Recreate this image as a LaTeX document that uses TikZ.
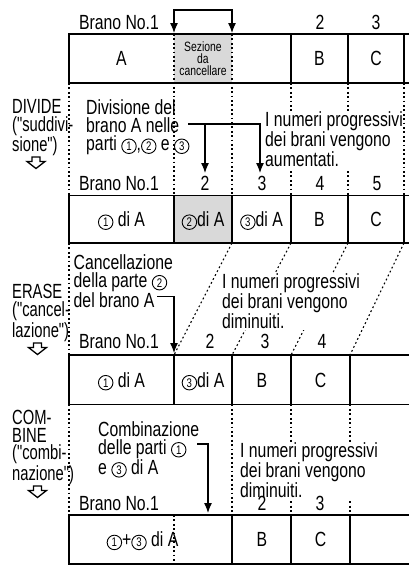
\documentclass[tikz,border=0pt]{standalone}
\usepackage{fontspec}
\setmainfont{Liberation Sans}[FakeStretch=0.77]
\newfontfamily\narrowfont{Liberation Sans}[FakeStretch=0.72]
\usetikzlibrary{arrows.meta}
\definecolor{secgray}{RGB}{217,217,217}
\newcommand\cn[1]{\tikz[baseline=(cnn.base)]\node[draw,circle,line width=0.9pt,inner sep=0pt,minimum size=14.5pt,font=\fontsize{12.5}{12.5}\selectfont](cnn){#1};}
\newcommand\hollowarrow[1]{\draw[hollow] ([xshift=-4pt]#1) -- ++(8,0) -- ++(0,4.5) -- ++(5,0) -- ++(-9,7) -- ++(-9,-7) -- ++(5,0) -- cycle;}
\begin{document}
\begin{tikzpicture}[x=1pt,y=-1pt,
  bar/.style={line width=1.8pt},
  dot/.style={line width=1.1pt,dash pattern=on 1.8pt off 2.6pt},
  conn/.style={line width=1.2pt},
  tip/.style={-{Latex[length=10pt,width=8pt]}},
  hollow/.style={line width=1.3pt,line join=miter},
  lbl/.style={inner sep=0pt,anchor=base,font=\fontsize{20.5}{18}\selectfont},
  txt/.style={inner sep=0pt,anchor=north west,align=left,font=\fontsize{20.5}{18}\selectfont},
  side/.style={inner sep=0pt,anchor=north west,align=left,font={\narrowfont\fontsize{20.5}{18}\selectfont}},
  wtxt/.style={txt,fill=white,inner xsep=1.5pt,inner ysep=1pt}]
\clip (0,0) rectangle (409,566);
\fill[white] (0,0) rectangle (409,566);
% gray sections
\fill[secgray] (174,34) rectangle (232,83);
\fill[secgray] (174,195.5) rectangle (232,243);
% dotted guide lines
\draw[dot] (69,83) -- (69,195.5);
\draw[dot] (174,34) -- (174,195.5);
\draw[dot] (232,34) -- (232,195.5);
\draw[dot] (291,83) -- (291,195.5);
\draw[dot] (348,83) -- (348,195.5);
\draw[dot] (69,243) -- (69,355);
\draw[dot] (232,243) -- (174,355);
\draw[dot] (291,243) -- (232,355);
\draw[dot] (348,243) -- (291,355);
\draw[dot] (404,243) -- (350,355);
\draw[dot] (69,404.5) -- (69,515);
\draw[dot] (232,404.5) -- (232,515);
\draw[dot] (291,404.5) -- (291,515);
\draw[dot] (350,404.5) -- (350,515);
\draw[dot] (174,515) -- (174,564);
% white-backed texts
\node[wtxt] (numdiv) at (263.5,110.45) {I numeri progressivi\\dei brani vengono\\aumentati.};
\node[wtxt] (numera) at (220.5,272.45) {I numeri progressivi\\dei brani vengono\\diminuiti.};
\node[wtxt,font=\fontsize{20.5}{17.5}\selectfont] (numcom) at (238.5,441.45) {I numeri progressivi\\dei brani vengono\\diminuiti.};
\draw[dot] (404,83) -- (404,195.5);
% bars
\draw[bar] (415,34) -- (69,34) -- (69,83) -- (415,83);
\draw[bar] (291,34) -- (291,83) (348,34) -- (348,83) (404,34) -- (404,83);
\draw[bar] (415,195.5) -- (69,195.5) -- (69,243) -- (415,243);
\draw[bar] (174,195.5) -- (174,243) (232,195.5) -- (232,243) (291,195.5) -- (291,243) (348,195.5) -- (348,243) (404,195.5) -- (404,243);
\draw[bar] (415,355) -- (69,355) -- (69,404.5) -- (415,404.5);
\draw[bar] (174,355) -- (174,404.5) (232,355) -- (232,404.5) (291,355) -- (291,404.5) (350,355) -- (350,404.5);
\draw[bar] (415,515) -- (69,515) -- (69,564) -- (415,564);
\draw[bar] (232,515) -- (232,564) (291,515) -- (291,564) (350,515) -- (350,564);
% row 1
\node[lbl] (r1a) at (119,29.25) {Brano No.1};
\node[lbl] (r1b) at (320,29.25) {2};
\node[lbl] (r1c) at (376,29.25) {3};
\node[lbl] (b1a) at (121.5,65.75) {A};
\node[inner sep=0pt,anchor=north,align=center,font={\fontsize{13.5}{12}\selectfont}] (b1s) at (203,42) {Sezione\\da\\cancellare};
\node[lbl] (b1b) at (319.5,65.75) {B};
\node[lbl] (b1c) at (376,65.75) {C};
% bracket
\coordinate (bk1) at (174,33);
\coordinate (bk2) at (232,33);
\coordinate (bkt) at (174,10);
\draw[conn,{Latex[length=10pt,width=8pt]}-{Latex[length=10pt,width=8pt]}] (bk1) -- (bkt) -| (bk2);
% DIVIDE
\node[side] (sdiv) at (12,99.45) {DIVIDE\\("suddivi-\\sione")};
\hollowarrow{36,157}
\node[txt] (tdiv) at (86,99.5) {Divisione del\\brano A nelle\\parti \cn{1},\cn{2} e \cn{3}};
\coordinate (dvA) at (188,124);
\coordinate (dvM) at (205,124);
\coordinate (dvB) at (260,124);
\coordinate (dvT2) at (205,173);
\coordinate (dvT3) at (260,173);
\draw[conn] (dvA) -- (dvM);
\draw[conn,tip] (dvM) -- (dvT2);
\draw[conn,tip] (dvM) -- (dvB) -- (dvT3);
% row 2
\node[lbl] (r2a) at (119,190.75) {Brano No.1};
\node[lbl] (r2b) at (205,190.75) {2};
\node[lbl] (r2c) at (262,190.75) {3};
\node[lbl] (r2d) at (320,190.75) {4};
\node[lbl] (r2e) at (377,190.75) {5};
\node[lbl] (b2a) at (121.5,226.5) {\cn{1} di A};
\node[lbl] (b2b) at (203,226.5) {\cn{2}di A};
\node[lbl] (b2c) at (261.5,226.5) {\cn{3}di A};
\node[lbl] (b2d) at (319.5,226.5) {B};
\node[lbl] (b2e) at (376,226.5) {C};
% ERASE
\node[side] (sera) at (12,284.45) {ERASE\\("cancel-\\lazione")};
\hollowarrow{37.5,343}
\node[txt] (tera) at (73.5,254) {Cancellazione\\della parte \cn{2}\\del brano A};
\coordinate (erA) at (157,296.5);
\coordinate (erM) at (174,296.5);
\coordinate (erT) at (174,353);
\draw[conn,tip] (erA) -- (erM) -- (erT);
% row 3
\node[lbl] (r3a) at (119,348.25) {Brano No.1};
\node[lbl] (r3b) at (210,348.25) {2};
\node[lbl] (r3c) at (265,348.25) {3};
\node[lbl] (r3d) at (322,348.25) {4};
\node[lbl] (b3a) at (121.5,387) {\cn{1} di A};
\node[lbl] (b3b) at (203,387) {\cn{3}di A};
\node[lbl] (b3c) at (262,387) {B};
\node[lbl] (b3d) at (320.5,387) {C};
% COMBINE
\node[side,font={\narrowfont\fontsize{20.5}{17.5}\selectfont}] (scom) at (12,410.45) {COM-\\BINE\\("combi-\\nazione")};
\hollowarrow{37.5,486}
\node[txt] (tcom) at (98,421) {Combinazione\\delle parti \cn{1}\\e \cn{3} di A};
\coordinate (cbA) at (197,444);
\coordinate (cbM) at (208,444);
\coordinate (cbT) at (208,513);
\draw[conn,tip] (cbA) -- (cbM) -- (cbT);
% row 4
\node[lbl] (r4a) at (119,510.75) {Brano No.1};
\node[lbl] (r4b) at (262,510.75) {2};
\node[lbl] (r4c) at (320,510.75) {3};
\node[lbl] (b4a) at (142.5,546.75) {\cn{1}+\cn{3} di A};
\node[lbl] (b4b) at (262,546.75) {B};
\node[lbl] (b4c) at (320.5,546.75) {C};
\end{tikzpicture}
\end{document}
